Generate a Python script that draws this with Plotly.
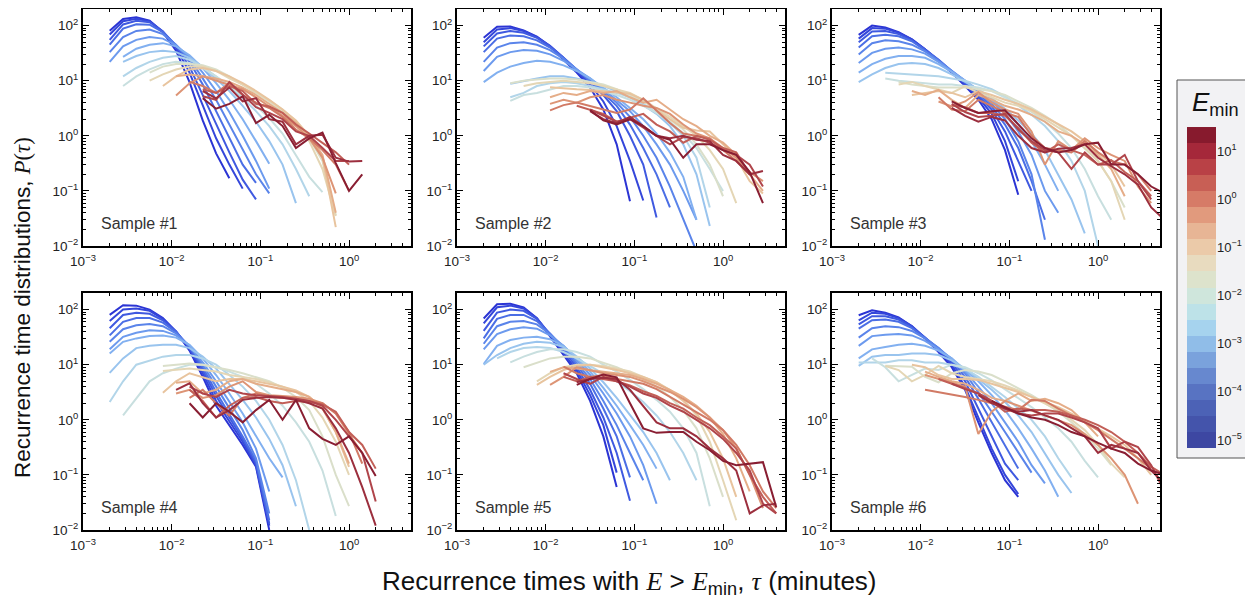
import numpy as np
import plotly.graph_objects as go

# ---------------- data ----------------
# log-spaced recurrence-time bins (minutes)
TAU_GRID = [0.00200, 0.00283, 0.00399, 0.00564, 0.00796, 0.0112, 0.0159, 0.0224,
            0.0317, 0.0447, 0.0632, 0.0893, 0.126, 0.178, 0.252, 0.356, 0.502,
            0.709, 1.00, 1.41, 2.00, 2.82, 3.98, 5.62, 7.94]

# energy thresholds (one curve per threshold, blue -> red)
E_MIN = [1.0e-5, 2.15e-5, 4.64e-5, 1.0e-4, 2.15e-4, 4.64e-4, 1.0e-3, 2.15e-3,
         4.64e-3, 1.0e-2, 2.15e-2, 4.64e-2, 0.1, 0.215, 0.464, 1.0, 2.15, 4.64,
         10.0, 21.5]

# first bin index of every curve, and P(tau) values
S1_START = [0, 0, 0, 0, 0, 0, 1, 1, 1, 1, 3, 3, 4, 5, 5, 6, 7, 7, 7, 7]
S1_VALUES = [
    [81, 132, 141, 123, 76, 35, 9.4, 1.9, 0.48, 0.17],
    [69, 120, 133, 120, 78, 40, 14, 3.5, 0.9, 0.3, 0.11],
    [55, 105, 122, 115, 78, 43, 18, 5.5, 1.6, 0.5, 0.16, 0.07],
    [45, 88, 106, 104, 76, 44, 22, 8.5, 2.8, 0.9, 0.3, 0.14],
    [33, 62, 80, 85, 70, 45, 25, 11, 4.5, 1.6, 0.55, 0.2, 0.09],
    [22, 42, 55, 62, 58, 44, 27, 14, 6.5, 2.7, 1.0, 0.35, 0.11],
    [27, 38, 45, 48, 42, 29, 17, 9, 4.5, 2.0, 0.8, 0.31],
    [22, 28, 33, 35, 33, 26, 18, 11, 6.5, 3.5, 1.8, 0.8, 0.3, 0.06],
    [12, 17, 22, 26, 28, 24, 18, 12, 7.8, 4.8, 2.8, 1.5, 0.7, 0.25, 0.08],
    [8, 12, 16, 20, 22, 21, 17, 12, 8, 5.4, 3.5, 2.1, 1.1, 0.45, 0.18, 0.095],
    [14, 18, 20, 20, 19, 16, 12, 8.5, 6, 4.2, 2.8, 1.7, 0.9, 0.35, 0.036],
    [10, 13, 16, 18, 18, 15, 11, 8.5, 6.2, 4.4, 3.0, 1.8, 0.8, 0.25, 0.035],
    [8, 12, 16, 17, 15, 12, 9, 6.5, 4.5, 3.0, 1.9, 1.0, 0.4, 0.022],
    [12, 13, 12, 11, 9.5, 7.5, 5.5, 3.8, 2.6, 1.7, 1.0, 0.45, 0.04],
    [5.4, 9, 12, 10, 8.5, 7, 5, 3.4, 2.3, 1.5, 0.9, 0.4, 0.09],
    [9.5, 8, 6, 9, 5.5, 4, 3.2, 2.2, 1.3, 0.9, 0.55, 0.3, 0.1],
    [7, 6, 8, 6.5, 3.8, 3.4, 2.6, 1.6, 1.1, 0.75, 0.5, 0.3],
    [5.2, 4.5, 9.5, 5.5, 3.3, 2.6, 2.0, 1.2, 1.0, 0.6, 0.35, 0.35],
    [6.5, 4.8, 7.5, 4.2, 4.8, 2.0, 1.8, 0.7, 1.0, 1.05, 0.4, 0.34, 0.35],
    [4.8, 3.1, 3.8, 5.2, 1.7, 2.4, 1.5, 0.6, 0.9, 1.15, 0.32, 0.1, 0.2],
]

S2_START = [0, 0, 0, 0, 0, 0, 0, 2, 2, 2, 2, 3, 5, 5, 5, 5, 7, 8, 8, 8]
S2_VALUES = [
    [60, 95, 96, 82, 63, 42, 24, 14, 7.5, 3, 0.7, 0.065],
    [50, 85, 90, 80, 62, 43, 26, 15, 8.5, 4.2, 1.5, 0.35, 0.067],
    [42, 72, 80, 74, 60, 42, 26, 16, 9.5, 5.5, 2.8, 1.0, 0.3, 0.033],
    [33, 58, 66, 64, 54, 40, 26, 16, 10, 6, 3.5, 1.6, 0.6, 0.2, 0.05],
    [22, 40, 48, 50, 45, 36, 25, 16, 10.5, 6.5, 4.0, 2.2, 1.0, 0.4, 0.12, 0.03, 0.008],
    [15, 27, 33, 36, 35, 30, 23, 16, 11, 7, 4.5, 2.8, 1.5, 0.7, 0.3, 0.1, 0.03],
    [9.4, 14, 18, 21, 23, 22, 19, 15, 11, 7.5, 5, 3.2, 2, 1.1, 0.5, 0.18, 0.03],
    [8.8, 10, 11, 12, 12, 11, 9.5, 8, 6.5, 5, 3.6, 2.5, 1.5, 0.7, 0.2, 0.023],
    [5, 6, 8, 9, 9.5, 9, 8, 7, 6, 5, 3.8, 2.6, 1.7, 1.0, 0.4, 0.05],
    [4.3, 5.5, 6, 7, 8, 8, 7.5, 6.5, 5.5, 4.5, 3.5, 2.6, 1.8, 1.1, 0.6, 0.25, 0.1],
    [9, 10, 10.5, 11, 11, 10.5, 9.5, 8.5, 7, 5.5, 4.2, 3, 2, 1.3, 0.7, 0.3, 0.08],
    [8, 9, 9.5, 10, 9.5, 9, 8, 7, 6, 4.5, 3.2, 2.2, 1.5, 1.0, 0.55, 0.25, 0.06],
    [7.6, 7.4, 7, 6.8, 6.5, 6.2, 5.8, 4.5, 2.9, 2.0, 1.4, 1.25, 1.2, 0.7, 0.4, 0.15, 0.09],
    [5, 6, 5.5, 6.5, 6, 6.5, 5, 4, 4.5, 3.0, 2.0, 1.5, 1.0, 0.75, 0.45, 0.2, 0.1],
    [3.8, 4.5, 4, 5, 5.5, 4.5, 4, 3.5, 3.2, 2.5, 1.6, 1.1, 0.9, 0.6, 0.4, 0.22, 0.15],
    [2.9, 3.6, 4, 3.5, 3, 2.6, 3.0, 4.8, 2.8, 1.7, 1.1, 1.0, 0.9, 0.55, 0.35, 0.2],
    [3.5, 3.0, 2.5, 1.8, 2.1, 2.5, 1.6, 1.2, 0.75, 1.0, 0.85, 0.6, 0.5, 0.2],
    [3.0, 2.3, 1.8, 2.0, 1.4, 1.0, 0.7, 0.95, 0.9, 0.75, 0.55, 0.45, 0.3, 0.12],
    [2.8, 2.0, 1.7, 2.2, 1.5, 1.0, 0.9, 1.0, 0.85, 0.8, 0.45, 0.35, 0.2, 0.23],
    [2.9, 1.9, 1.6, 2.0, 1.5, 1.0, 0.85, 0.4, 0.7, 0.7, 0.55, 0.45, 0.22, 0.06],
]

S3_START = [0, 0, 0, 0, 0, 0, 0, 0, 2, 2, 3, 3, 4, 4, 6, 6, 7, 7, 7, 7]
S3_VALUES = [
    [68, 100, 92, 76, 56, 37, 23, 14, 8, 4.5, 2.0, 0.55, 0.085],
    [58, 90, 88, 74, 56, 37, 23, 14.5, 8.5, 5, 2.5, 0.8, 0.15],
    [50, 78, 80, 70, 54, 37, 24, 15, 9, 5.3, 3.0, 1.2, 0.35, 0.1],
    [40, 64, 68, 64, 52, 36, 24, 15, 9.5, 5.8, 3.4, 1.6, 0.6, 0.15, 0.03],
    [30, 48, 54, 52, 45, 34, 23, 15, 10, 6.2, 3.8, 2.0, 0.8, 0.2, 0.013],
    [21, 32, 38, 40, 37, 31, 22, 15, 10, 6.5, 4.2, 2.5, 1.2, 0.45, 0.1, 0.04],
    [14, 20, 25, 28, 28, 26, 20, 14.5, 10, 6.8, 4.5, 2.8, 1.6, 0.8, 0.3, 0.1],
    [9.4, 13, 17, 20, 21, 20, 17, 13, 9.5, 7, 4.8, 3.1, 1.9, 1.1, 0.55, 0.2, 0.07, 0.017],
    [14, 13.5, 13, 12.5, 12, 11, 10, 8.5, 7, 5.2, 3.6, 2.4, 1.5, 0.8, 0.35, 0.1, 0.01],
    [11, 10, 9.5, 9, 8.5, 8.5, 8, 7.5, 6.5, 5, 3.8, 2.7, 1.8, 1.1, 0.6, 0.25, 0.08, 0.03],
    [9.5, 8.5, 8, 7.5, 7.5, 7.5, 7, 6.5, 5.5, 4.2, 3.2, 2.3, 1.6, 1.0, 0.6, 0.35, 0.15, 0.05],
    [8.5, 9.5, 8, 7, 6, 8, 6, 5, 4, 3.5, 2.8, 2.0, 1.4, 1.0, 0.6, 0.35, 0.15, 0.03],
    [5.5, 6, 6.5, 6, 5, 6.5, 5.5, 4.5, 3.8, 3.0, 2.2, 1.6, 1.2, 0.8, 0.5, 0.3, 0.12],
    [6.5, 5.5, 6.8, 4.5, 3.2, 5.5, 4.5, 3.5, 3.0, 2.4, 1.8, 1.2, 1.0, 0.7, 0.45, 0.25, 0.08],
    [4.2, 3.4, 4.2, 6.2, 4, 3, 2.5, 1.2, 0.3, 0.8, 0.55, 0.9, 0.6, 0.45, 0.35, 0.12, 0.06],
    [5, 3, 2.8, 4.5, 3.5, 2.6, 2.2, 1.0, 0.6, 0.55, 0.5, 0.8, 0.5, 0.35, 0.3, 0.2, 0.1],
    [3.6, 3.3, 2.6, 2.6, 2.3, 1.4, 0.75, 0.5, 0.7, 0.55, 0.45, 0.3, 0.36, 0.22, 0.15, 0.08],
    [3.8, 2.7, 2.2, 2.3, 2.5, 1.3, 0.8, 0.55, 0.5, 0.25, 0.5, 0.3, 0.3, 0.45, 0.15, 0.07],
    [3.2, 2.3, 1.8, 2.2, 1.9, 1.0, 0.6, 0.5, 0.58, 0.6, 0.7, 0.4, 0.28, 0.2, 0.13, 0.05, 0.03],
    [4.2, 3.2, 2.6, 2.8, 2.9, 1.6, 0.9, 0.6, 0.5, 0.55, 0.7, 0.75, 0.3, 0.3, 0.2, 0.12, 0.09],
]

S4_START = [0, 0, 0, 0, 0, 0, 0, 0, 0, 1, 4, 4, 4, 5, 5, 6, 6, 6, 5, 6]
S4_VALUES = [
    [80, 120, 118, 100, 70, 40, 18, 6, 1.8, 0.8, 0.35, 0.14, 0.01],
    [62, 100, 105, 95, 68, 40, 19, 7, 2.2, 0.95, 0.4, 0.15, 0.012],
    [46, 80, 88, 84, 64, 40, 20, 8, 2.7, 1.1, 0.45, 0.16, 0.013],
    [34, 60, 70, 70, 58, 39, 21, 9, 3.2, 1.3, 0.5, 0.18, 0.015],
    [26, 44, 52, 55, 50, 37, 22, 10, 4, 1.6, 0.65, 0.2, 0.02],
    [19, 32, 38, 42, 41, 34, 22, 11, 5, 2.1, 0.9, 0.3, 0.05],
    [16, 26, 30, 33, 34, 31, 23, 13, 6.5, 3, 1.3, 0.5, 0.2, 0.09],
    [7.1, 13, 20, 22, 23, 23, 20, 14, 8.5, 4.5, 2.3, 1.1, 0.45, 0.15, 0.027],
    [2.1, 5, 10, 12, 14, 15, 15, 13, 10, 6.5, 4, 2.2, 1.0, 0.35, 0.08, 0.01],
    [1.2, 2.5, 5, 7, 8.5, 10, 10, 9, 7.5, 6, 4.5, 3, 1.8, 0.9, 0.4, 0.12, 0.018],
    [9.5, 10, 10.5, 10, 9, 8, 7, 6, 5, 3.8, 2.6, 1.5, 0.5, 0.1, 0.027],
    [7.7, 8, 8.5, 8, 7.5, 6.5, 6, 5.5, 4.8, 4, 3.2, 2.2, 1.1, 0.4, 0.1],
    [3.1, 5, 7, 6, 5, 5.5, 5.5, 5, 4.5, 4, 3.4, 2.6, 1.6, 0.6, 0.14],
    [4.7, 5, 3, 3.5, 5, 5.5, 4.5, 4, 3.5, 3.2, 2.6, 1.6, 0.6, 0.16],
    [3, 3.5, 2.5, 2.8, 4, 5, 3.2, 2.8, 2.7, 2.6, 2.4, 2.0, 1.3, 0.55, 0.25],
    [2.5, 3.5, 2.0, 1.2, 2.5, 3.0, 2.6, 2.5, 2.4, 2.2, 2.0, 1.3, 0.6, 0.16],
    [3.5, 2.2, 1.1, 1.8, 2.5, 2.6, 2.2, 2.0, 2.2, 2.1, 1.9, 1.4, 0.6, 0.35, 0.13],
    [4.0, 3.0, 2.6, 3.5, 3.0, 2.8, 2.7, 2.6, 2.4, 2.2, 1.8, 1.0, 0.5, 0.25, 0.033],
    [3.5, 4.6, 2.0, 1.1, 1.5, 2.3, 2.5, 2.6, 2.5, 2.3, 2.0, 1.6, 0.7, 0.25, 0.06, 0.012],
    [2.0, 1.1, 2.0, 1.4, 0.9, 1.5, 2.3, 1.0, 2.3, 0.7, 0.45, 0.35, 0.5, 0.25, 0.095],
]

S5_START = [0, 0, 0, 0, 0, 0, 0, 0, 1, 2, 3, 4, 4, 5, 5, 6, 6, 6, 7, 7]
S5_VALUES = [
    [69, 125, 128, 110, 70, 33, 15, 7, 2.2, 0.5, 0.06],
    [56, 110, 118, 105, 70, 35, 16, 8, 2.8, 0.8, 0.11],
    [41, 88, 100, 95, 68, 36, 18, 9, 3.5, 1.1, 0.25, 0.034],
    [30, 68, 80, 80, 62, 37, 20, 10, 4.5, 1.6, 0.5, 0.09],
    [24, 50, 60, 62, 54, 36, 21, 11, 5.5, 2.2, 0.8, 0.25, 0.08],
    [19, 36, 44, 48, 45, 34, 22, 12, 6.5, 3, 1.3, 0.5, 0.15, 0.03],
    [10.3, 22, 28, 31, 32, 29, 22, 13, 7.5, 3.8, 1.8, 0.8, 0.35, 0.13],
    [10, 15, 20, 24, 26, 25, 21, 14, 8.5, 4.8, 2.5, 1.2, 0.6, 0.25, 0.08],
    [13, 17, 20, 21, 20, 17, 13, 9.5, 7, 5, 3.3, 2.1, 1.2, 0.6, 0.25, 0.08],
    [11, 14, 17, 19, 19, 17, 14, 10, 7.5, 5.3, 3.6, 2.3, 1.4, 0.7, 0.25, 0.027],
    [9, 11, 13, 14, 14, 13, 11, 9, 7, 5.5, 4, 2.6, 1.5, 0.7, 0.2, 0.04],
    [5, 7, 9, 10, 10, 9.5, 8.5, 7.5, 6, 4.8, 3.5, 2.3, 1.2, 0.4, 0.08, 0.015],
    [4.3, 6, 8, 9.5, 10, 9, 8, 7, 6, 4.8, 3.4, 2.2, 1.3, 0.6, 0.2, 0.04],
    [7.4, 9, 8.5, 8, 7.5, 7, 6.5, 5.5, 4.5, 3.5, 2.6, 1.8, 1.1, 0.55, 0.2, 0.05],
    [4.3, 6, 9, 8, 7, 6.5, 6, 5, 4, 3.2, 2.4, 1.7, 1.1, 0.65, 0.3, 0.1, 0.025],
    [9.2, 7, 6, 6.5, 5.5, 5, 4.5, 3.6, 2.6, 1.9, 1.4, 1, 0.65, 0.35, 0.15, 0.05, 0.025],
    [6, 5, 6, 5.5, 5, 4.2, 3.3, 2.7, 2, 1.6, 1.1, 0.8, 0.5, 0.3, 0.1, 0.04, 0.02],
    [7, 5.5, 4.5, 6, 5, 4, 3, 2.5, 1.8, 1.4, 1, 0.7, 0.45, 0.25, 0.12, 0.03, 0.02],
    [4.8, 5.5, 5.8, 5.5, 3.5, 1.8, 0.9, 0.7, 0.7, 0.5, 0.3, 0.2, 0.12, 0.02, 0.028, 0.03],
    [4.3, 5.5, 6.6, 5.9, 2.0, 0.7, 0.58, 0.6, 0.6, 0.4, 0.28, 0.18, 0.15, 0.16, 0.17, 0.026],
]

S6_START = [0, 0, 0, 0, 0, 0, 0, 0, 0, 1, 2, 2, 4, 5, 5, 5, 6, 7, 9, 10]
S6_VALUES = [
    [79, 97, 88, 72, 50, 30, 17, 9, 3.5, 0.9, 0.25, 0.08, 0.04],
    [64, 88, 84, 70, 50, 31, 18, 10, 4, 1.1, 0.3, 0.1, 0.045],
    [54, 76, 76, 66, 48, 31, 19, 11, 5, 1.6, 0.5, 0.16, 0.08],
    [45, 64, 66, 60, 46, 31, 20, 12, 6, 2.4, 0.9, 0.35, 0.13],
    [31, 46, 50, 48, 41, 30, 20, 12.5, 7, 3.2, 1.4, 0.6, 0.25, 0.11],
    [22, 33, 35, 36, 34, 27, 19, 13, 7.5, 4, 2, 0.9, 0.4, 0.15, 0.07],
    [13, 19, 21, 23, 24, 22, 18, 13, 8, 5, 2.8, 1.5, 0.7, 0.3, 0.12, 0.04],
    [9.5, 14, 15, 15, 16, 16, 15, 12, 8.5, 5.5, 3.5, 2.1, 1.2, 0.6, 0.25, 0.1, 0.047],
    [11, 11, 11, 12, 12, 11, 11, 10, 8.5, 6, 4, 2.6, 1.6, 1.0, 0.5, 0.2, 0.09],
    [13, 9, 5, 6.5, 8.5, 8, 10, 9, 7, 5.2, 3.6, 2.5, 1.7, 1.1, 0.7, 0.4, 0.18, 0.09],
    [9.6, 9.5, 9.2, 6, 4.8, 7, 8, 7.5, 6.5, 5, 3.8, 2.8, 2.0, 1.4, 0.9, 0.55, 0.3, 0.15],
    [9.5, 8, 5, 6.5, 9.5, 7, 6, 5.5, 5, 4.2, 3.4, 2.6, 2.0, 1.5, 1.0, 0.65, 0.35, 0.16, 0.09],
    [10, 9, 6.5, 5.5, 5.5, 5.3, 4.5, 3.8, 3.2, 2.6, 2.1, 1.7, 1.3, 0.95, 0.7, 0.5, 0.35, 0.2, 0.1],
    [7.5, 6, 5, 4.5, 3.5, 2.5, 2.2, 3, 2.2, 2.4, 2.0, 1.5, 0.9, 0.5],
    [6.5, 5.5, 4.8, 4.0, 0.55, 1.4, 2.2, 1.8, 1.5, 1.2, 1.0, 0.8, 0.55, 0.35, 0.2, 0.1, 0.03],
    [3.5, 3.2, 2.9, 2.6, 2.3, 2.0, 1.7, 1.5, 2.3, 2.2, 1.6, 1.2, 0.9, 0.65, 0.45, 0.3, 0.2, 0.13],
    [5.5, 4.5, 3.8, 3.0, 2.2, 1.4, 1.6, 1.5, 1.5, 1.4, 1.2, 1.0, 0.8, 0.6, 0.4, 0.25, 0.14, 0.1],
    [4.5, 3.6, 3.0, 2.2, 1.6, 1.3, 1.2, 1.3, 1.3, 1.1, 0.9, 0.7, 0.3, 0.4, 0.32, 0.15, 0.05],
    [2.8, 2.0, 1.6, 1.4, 1.5, 1.2, 1.0, 0.7, 0.5, 0.25, 0.35, 0.3, 0.25, 0.12, 0.07],
    [2.2, 1.7, 1.3, 1.1, 1.0, 0.8, 0.6, 0.5, 0.38, 0.3, 0.25, 0.16, 0.12, 0.1],
]

SAMPLES = [
    ("Sample #1", S1_START, S1_VALUES),
    ("Sample #2", S2_START, S2_VALUES),
    ("Sample #3", S3_START, S3_VALUES),
    ("Sample #4", S4_START, S4_VALUES),
    ("Sample #5", S5_START, S5_VALUES),
    ("Sample #6", S6_START, S6_VALUES),
]

X_TICKS = [1e-3, 1e-2, 1e-1, 1]
X_TICKTEXT = ["10<sup>−3</sup>", "10<sup>−2</sup>", "10<sup>−1</sup>", "10<sup>0</sup>"]
Y_TICKS = [1e-2, 1e-1, 1, 10, 100]
Y_TICKTEXT = ["10<sup>−2</sup>", "10<sup>−1</sup>", "10<sup>0</sup>", "10<sup>1</sup>", "10<sup>2</sup>"]
CB_TICKS = [-5, -4, -3, -2, -1, 0, 1]
CB_TICKTEXT = ["10<sup>−5</sup>", "10<sup>−4</sup>", "10<sup>−3</sup>", "10<sup>−2</sup>",
               "10<sup>−1</sup>", "10<sup>0</sup>", "10<sup>1</sup>"]

# ---------------- styles ----------------
LINE_COLORS = ['#2b34d4', '#3446da', '#3f59e0', '#4b6ee5', '#5a84ea', '#6c9aee', '#82b0f0',
               '#99c4ee', '#b2d5e9', '#c8dfdf', '#dadfca', '#e4d6b5', '#e8c49e', '#e5ad88',
               '#dd9475', '#d17a65', '#c25f57', '#b0454b', '#9c2f3e', '#891e32']
CB_COLORS = ['#3d47a2', '#4454ab', '#4c62b6', '#5873c2', '#6788cf', '#7aa2dc', '#90bde8',
             '#a6d3ee', '#bde2e8', '#cfe6dc', '#dde3cc', '#e8dbbf', '#ebcaa9', '#e7b595',
             '#e19a7d', '#d67b67', '#c85f55', '#b94146', '#a5283a', '#871a2d']

# page has an 8px body margin: figure placed at (8, 8)
OX, OY = 8, 8
FW, FH = 1245, 595


def fx(px):
    return (px - OX) / FW


def fy(py):
    return 1 - (py - OY) / FH


COLS = [(83, 411), (457, 785), (832, 1160)]
ROWS = [(9, 246), (293, 530)]
FONT = "Liberation Sans, Arial, Helvetica, sans-serif"

fig = go.Figure()

minor_x = [m * 10.0 ** e for e in range(-3, 1) for m in range(2, 10)]
minor_y = [m * 10.0 ** e for e in range(-2, 3) for m in range(2, 10)]

annotations = []
for p, (label, starts, values) in enumerate(SAMPLES):
    r, c = divmod(p, 3)
    xa = "x" if p == 0 else f"x{p + 1}"
    ya = "y" if p == 0 else f"y{p + 1}"
    for i, (s, vals) in enumerate(zip(starts, values)):
        fig.add_trace(go.Scatter(
            x=TAU_GRID[s:s + len(vals)], y=vals, mode="lines",
            line=dict(color=LINE_COLORS[i], width=2),
            xaxis=xa, yaxis=ya, showlegend=False, hoverinfo="skip"))
    x0, x1 = COLS[c]
    y0, y1 = ROWS[r]
    axis_common = dict(
        type="log", showgrid=False, zeroline=False, automargin=False,
        showline=True, linecolor="black", linewidth=2, mirror="allticks",
        ticks="inside", ticklen=6, tickwidth=1, tickcolor="black",
        tickfont=dict(family=FONT, size=13.5, color="#222"),
    )
    fig.update_layout(**{
        ("xaxis" if p == 0 else f"xaxis{p + 1}"): dict(
            axis_common, domain=[fx(x0), fx(x1)], anchor=ya, ticklabelstandoff=2,
            range=[-3, np.log10(5)], tickmode="array", tickvals=X_TICKS, ticktext=X_TICKTEXT,
            minor=dict(tickmode="array", tickvals=minor_x, ticks="inside", ticklen=3,
                       tickcolor="black", tickwidth=1, showgrid=False)),
        ("yaxis" if p == 0 else f"yaxis{p + 1}"): dict(
            axis_common, domain=[fy(y1), fy(y0)], anchor=xa,
            range=[-2, np.log10(200)], tickmode="array", tickvals=Y_TICKS, ticktext=Y_TICKTEXT,
            minor=dict(tickmode="array", tickvals=minor_y, ticks="inside", ticklen=3,
                       tickcolor="black", tickwidth=1, showgrid=False)),
    })
    annotations.append(dict(
        text=label, xref="paper", yref="paper", x=fx(x0 + 16), y=fy(y1 - 23),
        xanchor="left", yanchor="middle", showarrow=False,
        font=dict(family=FONT, size=16, color="#333")))

# ---------------- colour bar (E_min) ----------------
cb_exp = [float(np.log10(e)) for e in E_MIN]
n = len(E_MIN)
cb_scale = [[k / (n - 1), CB_COLORS[k]] for k in range(n)]
fig.add_trace(go.Heatmap(
    z=[[k] for k in range(n)], x=[0], y=cb_exp, zmin=0, zmax=n - 1,
    colorscale=cb_scale, showscale=False, xaxis="x7", yaxis="y7", hoverinfo="skip"))
fig.update_layout(
    xaxis7=dict(domain=[fx(1187), fx(1216)], anchor="y7", visible=False, range=[-0.5, 0.5]),
    yaxis7=dict(domain=[fy(448), fy(127)], anchor="x7", side="right", automargin=False,
                range=[cb_exp[0] - 1 / 6, cb_exp[-1] + 1 / 6], showgrid=False, zeroline=False,
                showline=False, ticks="", tickmode="array", tickvals=CB_TICKS,
                ticktext=CB_TICKTEXT, tickfont=dict(family=FONT, size=13, color="#222")),
)
shapes = [dict(type="rect", xref="paper", yref="paper", x0=fx(1177), x1=fx(1251),
               y0=fy(458), y1=fy(80), fillcolor="#f2f2f4",
               line=dict(color="#555", width=1), layer="below")]
annotations.append(dict(
    text="<i>E</i><sub>min</sub>", xref="paper", yref="paper", x=fx(1215), y=fy(104),
    xanchor="center", yanchor="middle", showarrow=False,
    font=dict(family=FONT, size=26, color="#111")))

# ---------------- axis titles ----------------
SERIF_I = "<span style='font-family:Liberation Serif'><i>{}</i></span>"
annotations.append(dict(
    text="Recurrence time distributions, " + SERIF_I.format("P")
         + "<span style='font-family:Liberation Serif'>(</span>" + SERIF_I.format("τ")
         + "<span style='font-family:Liberation Serif'>)</span>",
    xref="paper", yref="paper", x=fx(22), y=fy(308), textangle=-90,
    xanchor="center", yanchor="middle", showarrow=False,
    font=dict(family=FONT, size=22.5, color="#111")))
annotations.append(dict(
    text="Recurrence times with " + SERIF_I.format("E") + "&nbsp;&gt;&nbsp;"
         + SERIF_I.format("E") + "<sub>min</sub>, " + SERIF_I.format("τ") + " (minutes)",
    xref="paper", yref="paper", x=fx(629), y=fy(582),
    xanchor="center", yanchor="middle", showarrow=False,
    font=dict(family=FONT, size=26, color="#111")))

fig.update_layout(
    template="none",
    width=FW, height=FH, autosize=False,
    margin=dict(l=0, r=0, t=0, b=0, pad=0),
    paper_bgcolor="white", plot_bgcolor="white",
    showlegend=False, annotations=annotations, shapes=shapes,
)

fig.write_html("out.html")
